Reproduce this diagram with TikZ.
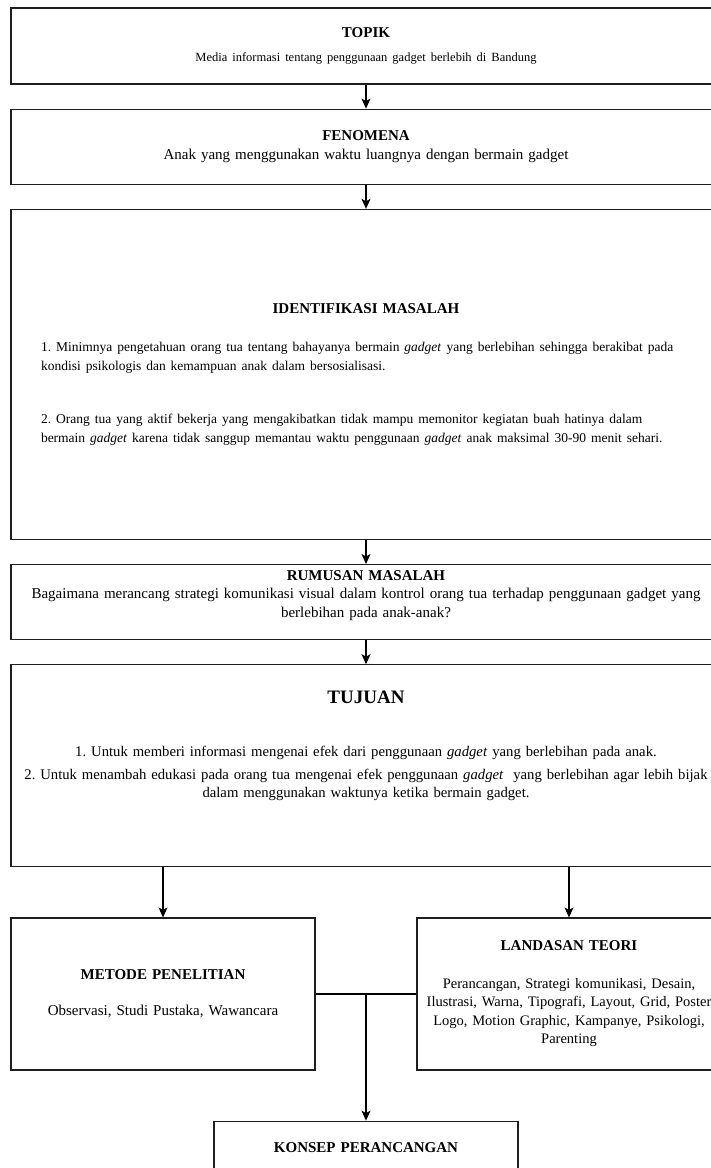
\documentclass[tikz,border=0pt]{standalone}
\usepackage{fontspec}
\setmainfont{Liberation Serif}
\usetikzlibrary{arrows.meta,positioning}
\definecolor{Garis}{HTML}{1E1E1E}
\newcommand{\judul}[1]{{\fontsize{15}{18}\selectfont\bfseries #1}}
\frenchspacing

\begin{document}
\begin{tikzpicture}[x=1pt,y=1pt,
    kotak/.style={draw=Garis,line width=1.2pt,minimum width=710pt,inner sep=0pt,align=center,font=\fontsize{15}{18.5}\selectfont},
    kecil/.style={kotak,minimum width=304pt,minimum height=152pt,text width=300pt},
    panah/.style={-{Stealth[length=10pt,width=9pt,inset=2.5pt]},line width=1.1pt,draw=black}]
  \path[use as bounding box,fill=white] (0,0) rectangle (711,-1168);
  % alur utama
  \node[kotak,minimum height=76pt,text width=690pt] (topik) at (366,-46)
    {\judul{TOPIK}\\[5pt]{\fontsize{12.5}{15}\selectfont Media informasi tentang penggunaan gadget berlebih di Bandung}};
  \node[kotak,minimum height=75pt,text width=690pt,below=24pt of topik] (fenomena)
    {\judul{FENOMENA}\\Anak yang menggunakan waktu luangnya dengan bermain gadget};
  \node[kotak,minimum height=330pt,text width=650pt,align=left,below=24pt of fenomena] (identifikasi)
    {{\centering\judul{IDENTIFIKASI MASALAH}\par}
     \vspace{19pt}
     {\fontsize{13.5}{19}\selectfont
     1. Minimnya pengetahuan orang tua tentang bahayanya bermain \emph{gadget} yang berlebihan sehingga berakibat pada\\
     kondisi psikologis dan kemampuan anak dalam bersosialisasi.\par
     \vspace{34pt}
     2. Orang tua yang aktif bekerja yang mengakibatkan tidak mampu memonitor kegiatan buah hatinya dalam\\
     bermain \emph{gadget} karena tidak sanggup memantau waktu penggunaan \emph{gadget} anak maksimal 30-90 menit sehari.\par}};
  \node[kotak,minimum height=75pt,text width=700pt,below=24pt of identifikasi] (rumusan)
    {\judul{RUMUSAN MASALAH}\\Bagaimana merancang strategi komunikasi visual dalam kontrol orang tua terhadap penggunaan gadget yang\\
     berlebihan pada anak-anak?\\[-2pt]\null};
  \node[kotak,minimum height=202pt,text width=706pt,below=24pt of rumusan,font=\fontsize{14.7}{18.5}\selectfont] (tujuan)
    {{\fontsize{19}{22}\selectfont\bfseries TUJUAN}\\[34pt]
     1. Untuk memberi informasi mengenai efek dari penggunaan \emph{gadget} yang berlebihan pada anak.\\[4.5pt]
     2. Untuk menambah edukasi pada orang tua mengenai efek penggunaan \emph{gadget} \ yang berlebihan agar lebih bijak\\
     dalam menggunakan waktunya ketika bermain gadget.\\[24pt]\null};
  % cabang bawah
  \node[kecil,anchor=north west] (metode) at ([yshift=-50pt]tujuan.south west)
    {\judul{METODE PENELITIAN}\\[17.5pt]Observasi, Studi Pustaka, Wawancara};
  \node[kecil,anchor=north east,font=\fontsize{14.5}{18.5}\selectfont] (landasan) at ([yshift=-50pt]tujuan.south east)
    {\judul{LANDASAN TEORI}\\[19pt]Perancangan, Strategi komunikasi, Desain,\\
     Ilustrasi, Warna, Tipografi, Layout, Grid, Poster\\
     Logo, Motion Graphic, Kampanye, Psikologi,\\
     Parenting};
  \node[kotak,minimum width=304pt,minimum height=52pt,text width=300pt,anchor=north] (konsep)
    at ([yshift=-50pt]metode.south -| tujuan.south) {\judul{KONSEP PERANCANGAN}};
  % panah
  \draw[panah] (topik) -- (fenomena);
  \draw[panah] (fenomena) -- (identifikasi);
  \draw[panah] (identifikasi) -- (rumusan);
  \draw[panah] (rumusan) -- (tujuan);
  \draw[panah] (tujuan.south -| metode.north) -- (metode.north);
  \draw[panah] (tujuan.south -| landasan.north) -- (landasan.north);
  \draw[line width=1.1pt] (metode.east) -- (landasan.west);
  \draw[panah] (metode.east -| konsep.north) -- (konsep.north);
\end{tikzpicture}
\end{document}
